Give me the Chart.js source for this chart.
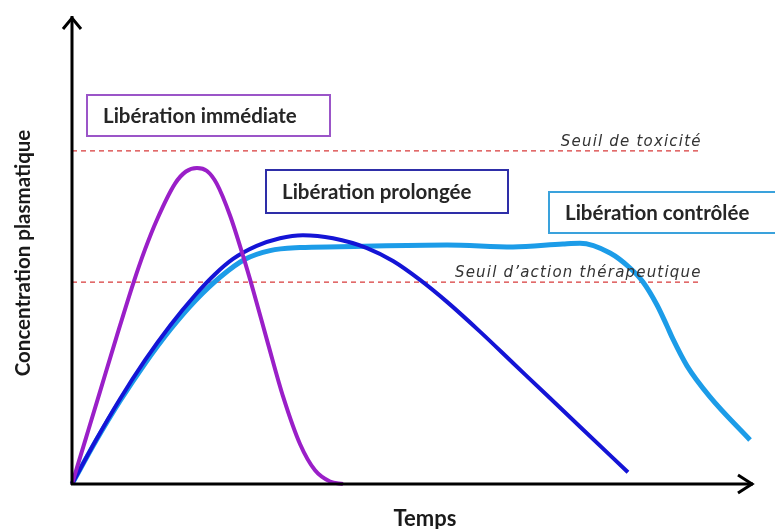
<!DOCTYPE html>
<html>
<head>
<meta charset="utf-8">
<script src="https://cdn.jsdelivr.net/npm/chart.js@4.4.1/dist/chart.umd.min.js"></script>
<style>
  body { margin: 0; background: #fff; }
  canvas { display: block; }
</style>
</head>
<body>
<canvas id="myChart" width="775" height="529"></canvas>
<script>
// temps (unités arbitraires 0..100) et concentration (0..100)
let immediateT = [0, 2.06, 4.12, 6.54, 9.01, 10.74, 12.46, 15.15, 16.76, 18.38, 19.85, 21.28, 23.24, 25.19, 26.66, 28.82, 31.07, 33.53, 35.74, 37.94, 39.85]
let immediateC = [0, 9.91, 19.83, 31.52, 43.07, 50.34, 56.61, 64.46, 67.06, 67.81, 67.17, 64.46, 57.62, 48.78, 41.48, 30.13, 18.63, 8.58, 2.94, 0.54, 0]

let prolongeeT = [0, 3.53, 7.06, 10.74, 14.41, 18.09, 21.03, 23.68, 27.16, 30.59, 33.97, 38.38, 43.38, 47.21, 51.18, 55.15, 60.0, 64.85, 69.85, 74.71, 81.76]
let prolongeeC = [0, 9.44, 18.24, 26.56, 33.96, 40.5, 45.01, 48.29, 51.09, 52.75, 53.39, 52.73, 50.64, 47.85, 43.8, 39.08, 32.7, 25.97, 19.03, 12.3, 2.51]

let controleeT = [0, 3.53, 7.06, 10.74, 14.41, 18.09, 21.76, 25.44, 29.12, 33.53, 39.41, 55.15, 64.85, 72.2, 74.7, 79.12, 82.06, 83.97, 86.03, 87.5, 88.38, 90.44, 93.82, 99.71]
let controleeC = [0, 9.27, 17.81, 25.86, 33.05, 39.27, 44.36, 48.22, 50.09, 50.73, 50.9, 51.29, 50.86, 51.5, 51.65, 49.57, 46.35, 43.35, 38.41, 33.91, 31.07, 25.36, 18.69, 9.44]

let seuilLabels = ['Seuil de toxicité', 'Seuil d\u2019action thérapeutique']
let seuilValues = [71.5, 43.3]
let seuilEndT = 92.6

let releaseLabels = ['Libération immédiate', 'Libération prolongée', 'Libération contrôlée']

function toPoints(ts, cs) {
  return ts.map((t, i) => ({ x: t, y: cs[i] }))
}

// axes with arrows, boxed labels, threshold texts, axis titles
const decorPlugin = {
  id: 'decor',
  afterDatasetsDraw(chart) {
    const ctx = chart.ctx
    const a = chart.chartArea
    const xs = chart.scales.x
    const ys = chart.scales.y
    ctx.save()

    // axes
    ctx.strokeStyle = '#000'
    ctx.lineWidth = 3
    ctx.lineCap = 'butt'
    ctx.beginPath()
    ctx.moveTo(a.left, a.bottom + 1)
    ctx.lineTo(a.left, a.top - 2)
    ctx.moveTo(a.left - 1, a.bottom)
    ctx.lineTo(a.right + 1, a.bottom)
    ctx.stroke()
    ctx.lineJoin = 'miter'
    ctx.beginPath()
    ctx.moveTo(a.left - 9, a.top + 11)
    ctx.lineTo(a.left, a.top)
    ctx.lineTo(a.left + 9, a.top + 11)
    ctx.moveTo(a.right - 14, a.bottom - 9)
    ctx.lineTo(a.right, a.bottom)
    ctx.lineTo(a.right - 14, a.bottom + 9)
    ctx.stroke()

    // threshold labels
    ctx.fillStyle = '#333'
    ctx.font = 'italic 15px "DejaVu Sans"'
    ctx.letterSpacing = '1.2px'
    ctx.textAlign = 'right'
    ctx.textBaseline = 'alphabetic'
    seuilLabels.forEach((lab, i) => {
      ctx.fillText(lab, xs.getPixelForValue(seuilEndT), ys.getPixelForValue(seuilValues[i]) - 5)
    })
    ctx.letterSpacing = '0px'

    // boxed labels
    const boxes = [
      { x: 87, y: 95, w: 243, h: 41, color: '#9b55c8' },
      { x: 266, y: 170, w: 242, h: 43, color: '#2e2ea8' },
      { x: 549, y: 192, w: 240, h: 41, color: '#3aa2dc' }
    ]
    ctx.font = 'bold 20.5px Lato'
    ctx.textAlign = 'left'
    ctx.textBaseline = 'middle'
    boxes.forEach((b, i) => {
      ctx.fillStyle = '#fff'
      ctx.fillRect(b.x, b.y, b.w, b.h)
      ctx.strokeStyle = b.color
      ctx.lineWidth = 2
      ctx.strokeRect(b.x, b.y, b.w, b.h)
      ctx.fillStyle = '#262626'
      ctx.fillText(releaseLabels[i], b.x + 16, b.y + b.h / 2 + 1)
    })

    // axis titles
    ctx.fillStyle = '#1a1a1a'
    ctx.font = 'bold 22px Lato'
    ctx.textAlign = 'center'
    ctx.fillText('Temps', 425, 519)
    ctx.font = 'bold 20.5px Lato'
    ctx.translate(23, 253)
    ctx.rotate(-Math.PI / 2)
    ctx.fillText('Concentration plasmatique', 0, 0)
    ctx.restore()
  }
}

let myChart = document.getElementById('myChart').getContext('2d')
let releaseChart = new Chart(myChart, {
  type: 'line',
  data: {
    datasets: [
      {
        label: releaseLabels[0],
        data: toPoints(immediateT, immediateC),
        borderColor: '#9a1fc8',
        borderWidth: 4,
        cubicInterpolationMode: 'monotone',
        pointRadius: 0,
        clip: false
      },
      {
        label: releaseLabels[1],
        data: toPoints(prolongeeT, prolongeeC),
        borderColor: '#1414d6',
        borderWidth: 4,
        cubicInterpolationMode: 'monotone',
        pointRadius: 0,
        clip: false
      },
      {
        label: releaseLabels[2],
        data: toPoints(controleeT, controleeC),
        borderColor: '#1c9ce8',
        borderWidth: 5,
        cubicInterpolationMode: 'monotone',
        pointRadius: 0,
        clip: false
      },
      {
        label: seuilLabels[0],
        data: [{ x: 0, y: seuilValues[0] }, { x: seuilEndT, y: seuilValues[0] }],
        borderColor: '#d83a3a',
        borderWidth: 1.3,
        borderDash: [5, 4],
        pointRadius: 0
      },
      {
        label: seuilLabels[1],
        data: [{ x: 0, y: seuilValues[1] }, { x: seuilEndT, y: seuilValues[1] }],
        borderColor: '#d83a3a',
        borderWidth: 1.3,
        borderDash: [5, 4],
        pointRadius: 0
      }
    ]
  },
  options: {
    responsive: false,
    animation: false,
    devicePixelRatio: 1,
    layout: { padding: { left: 72, right: 23, top: 18, bottom: 45 } },
    plugins: { legend: { display: false }, tooltip: { enabled: false } },
    scales: {
      x: { type: 'linear', min: 0, max: 100, display: false },
      y: { type: 'linear', min: 0, max: 100, display: false }
    }
  },
  plugins: [decorPlugin]
})
</script>
</body>
</html>
